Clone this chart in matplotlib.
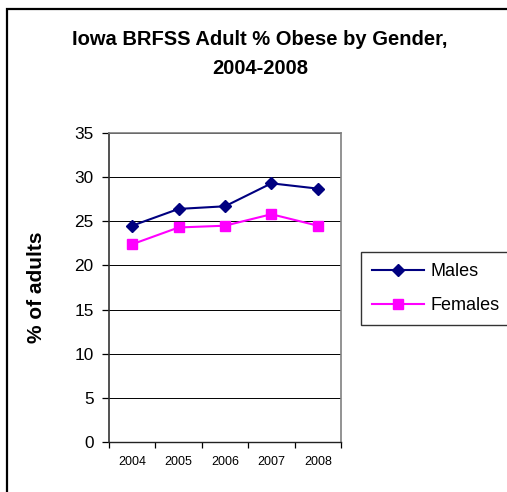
import matplotlib
matplotlib.use("Agg")
import matplotlib.pyplot as plt
from matplotlib.patches import Rectangle
import numpy as np

plt.rcParams['font.family'] = ['Liberation Sans', 'DejaVu Sans']

years = ["2004", "2005", "2006", "2007", "2008"]
males = [24.5, 26.4, 26.7, 29.3, 28.7]
females = [22.4, 24.3, 24.5, 25.8, 24.5]
y_ticks = [0, 5, 10, 15, 20, 25, 30, 35]

W, H = 507, 492
fig = plt.figure(figsize=(W / 100, H / 100), dpi=100)
fig.patch.set_facecolor("white")

# outer chart frame (left and top edges visible)
fig.patches.append(Rectangle((7 / W, -0.1), 1.2, 1 - 9 / H + 0.1,
                             transform=fig.transFigure, fill=False,
                             edgecolor="black", linewidth=1.6, clip_on=False))

ax = fig.add_axes([109 / W, 50 / H, 232 / W, 309 / H])
x = np.arange(len(years))

ax.plot(x, males, color="#000080", marker="D", markersize=6.5, linewidth=1.5,
        label="Males", zorder=3)
ax.plot(x, females, color="#FF00FF", marker="s", markersize=7, linewidth=1.5,
        label="Females", zorder=3)

ax.set_ylim(0, 35)
ax.set_xlim(-0.5, len(years) - 0.5)
ax.set_yticks(y_ticks)
ax.set_yticklabels([str(v) for v in y_ticks])
ax.tick_params(axis="y", labelsize=12.4, length=5, width=0.9, pad=6, direction="out")

# category boundaries carry the ticks, labels sit between them
ax.set_xticks(np.arange(-0.5, len(years), 1.0))
ax.set_xticklabels([])
ax.set_xticks(x, minor=True)
ax.set_xticklabels(years, minor=True)
ax.tick_params(axis="x", which="major", length=4, width=0.9, direction="out")
ax.tick_params(axis="x", which="minor", length=0, labelsize=9, pad=10)

ax.yaxis.grid(True, color="black", linewidth=0.7)
ax.set_axisbelow(True)

for side in ("top", "right"):
    ax.spines[side].set_color("#808080")
    ax.spines[side].set_linewidth(1.2)
ax.spines["left"].set_color("#333333")
ax.spines["left"].set_linewidth(1.2)
ax.spines["bottom"].set_color("#222222")
ax.spines["bottom"].set_linewidth(1.0)

ax.set_ylabel("% of adults", fontsize=15, fontweight="bold")
ax.yaxis.set_label_coords(-0.27, 0.5)

fig.text(260 / W, 1 - 54 / H, "Iowa BRFSS Adult % Obese by Gender,\n2004-2008",
         ha="center", va="center", fontsize=14.5, fontweight="bold",
         linespacing=1.65)

leg = ax.legend(loc="upper left", bbox_to_anchor=(361 / W, 1 - 252 / H),
                bbox_transform=fig.transFigure, borderaxespad=0,
                fontsize=13, frameon=True, fancybox=False, handlelength=2.9,
                handletextpad=0.35, borderpad=0.6, labelspacing=0.95)
leg.get_frame().set_edgecolor("black")
leg.get_frame().set_linewidth(1.0)

fig.savefig("out.png", dpi=100, facecolor="white")
